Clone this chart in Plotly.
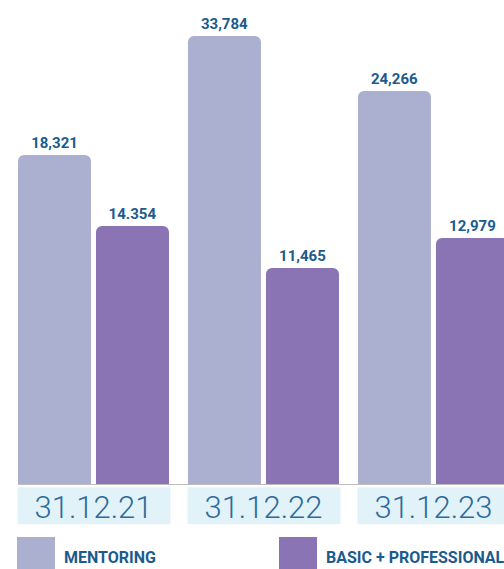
import plotly.graph_objects as go

# ---- data ----
categories = ["31.12.21", "31.12.22", "31.12.23"]
series_names = ["MENTORING", "BASIC + PROFESSIONAL"]
mentoring_labels = ["18,321", "33,784", "24,266"]
professional_labels = ["14.354", "11,465", "12,979"]
# drawn bar heights as they appear (relative units, axis 0..48.5)
mentoring_heights = [33.0, 44.9, 39.4]
professional_heights = [25.9, 21.7, 24.7]

C_MENT = "#abb0d0"
C_PROF = "#8a74b4"
C_TEXT = "#1b5b8d"
C_CAT = "#2e6a9b"
C_BOX = "#e1f3f9"

W, H = 504, 569
BOTTOM = 84

fig = go.Figure()
bw = 73 / 170
fig.add_trace(go.Bar(
    x=categories, y=mentoring_heights, name=series_names[0],
    marker=dict(color=C_MENT, cornerradius=6, line=dict(width=0)),
    width=bw, offset=-75.5 / 170,
    text=mentoring_labels, textposition="outside", cliponaxis=False,
    textfont=dict(family="Roboto", size=15, color=C_TEXT, weight="bold"),
))
fig.add_trace(go.Bar(
    x=categories, y=professional_heights, name=series_names[1],
    marker=dict(color=C_PROF, cornerradius=6, line=dict(width=0)),
    width=bw, offset=2.5 / 170,
    text=professional_labels, textposition="outside", cliponaxis=False,
    textfont=dict(family="Roboto", size=15, color=C_TEXT, weight="bold"),
))

shapes = []
# category label boxes
for i in range(len(categories)):
    shapes.append(dict(type="rect", xref="x", yref="paper",
                       x0=i - 0.447, x1=i + 0.453, y0=-0.0048, y1=-0.081,
                       fillcolor=C_BOX, line=dict(width=0), layer="below"))
# baseline
shapes.append(dict(type="line", xref="x", yref="y", x0=-0.444, x1=2.6, y0=0, y1=0,
                   line=dict(color="#bdbdbd", width=2)))

annotations = []
# legend squares and labels
leg = [(17, C_MENT, series_names[0]), (279, C_PROF, series_names[1])]
for x0, col, name in leg:
    shapes.append(dict(type="rect", xref="paper", yref="paper",
                       x0=x0 / W, x1=(x0 + 38) / W,
                       y0=-(537 - 485) / 485, y1=-(575 - 485) / 485,
                       fillcolor=col, line=dict(width=0)))
    annotations.append(dict(xref="paper", yref="paper", x=(x0 + 45) / W,
                            y=-(557.5 - 485) / 485, xanchor="left", yanchor="middle",
                            text=name, showarrow=False,
                            font=dict(family="Roboto", size=16, color=C_TEXT, weight="bold")))

fig.update_layout(
    width=W, height=H,
    margin=dict(l=0, r=0, t=0, b=BOTTOM, pad=0),
    paper_bgcolor="white", plot_bgcolor="white",
    showlegend=False,
    barmode="overlay",
    xaxis=dict(type="category", categoryarray=categories, range=[-0.55, 2.415],
               showgrid=False, zeroline=False, showline=False,
               ticks="", ticklabelstandoff=1,
               tickfont=dict(family="Roboto", size=31, color=C_CAT, weight=300)),
    yaxis=dict(range=[0, 48.5], visible=False, showgrid=False, zeroline=False),
    shapes=shapes, annotations=annotations,
)

fig.write_html(
    "out.html",
    config={"displayModeBar": False},
    post_script="document.body.style.margin='0';document.body.style.overflow='hidden';",
)
